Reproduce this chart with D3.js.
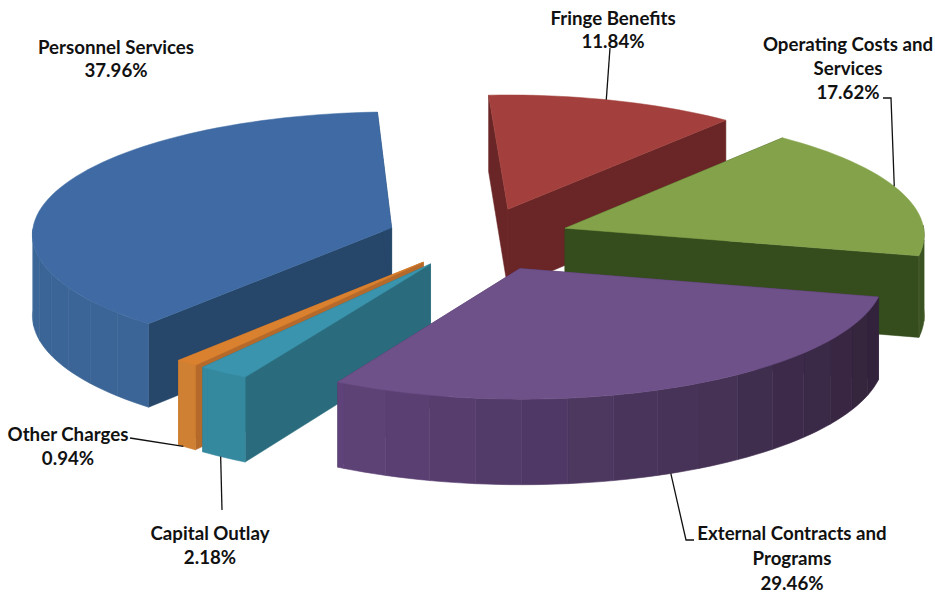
<!DOCTYPE html>
<html><head><meta charset="utf-8">
<script src="https://cdn.jsdelivr.net/npm/d3@7"></script>
<style>html,body{margin:0;padding:0;background:#fff}svg{display:block}
text{font-family:Lato,"Open Sans",sans-serif;font-weight:700;fill:#111}</style>
</head><body><svg id="c" width="935" height="596"></svg>
<script>
const categories = ["Personnel Services","Fringe Benefits","Operating Costs and Services","External Contracts and Programs","Capital Outlay","Other Charges"];
const shares = [37.96,11.84,17.62,29.46,2.18,0.94];
const shareLabels = ["37.96%","11.84%","17.62%","29.46%","2.18%","0.94%"];

// slice explosion (fraction of radius)
const explosions = [0.26,0.25,0.25,0.27,0.25,0.25];
// styling
const topColors  = ["#3f6ba3","#a3403c","#84a24a","#6e5189","#3a94ad","#d9812f"];
const cutColors  = ["#264669","#6b2627","#354d1e","#4a3560","#2b6c7d","#b5692a"];
const wallStart  = ["#3a6596","#6b2627","#354d1e","#2f2238","#35899f","#d08030"];
const wallEnd    = ["#3c6798","#6b2627","#3a5220","#5f4379","#35899f","#d08030"];
const labelLines = [["Personnel Services","37.96%"],["Fringe Benefits","11.84%"],["Operating Costs and","Services","17.62%"],["External Contracts and","Programs","29.46%"],["Capital Outlay","2.18%"],["Other Charges","0.94%"]];
const labelAt = [[116,54,23],[613,25,23],[848,51,24],[792,540,25],[210,540,24],[68,441,24]];
const paintOrder = [1,2,0,5,4,3];
// leader: rim angle in degrees, on lower rim?, elbow path from the label
const leaders = [null,
  {deg:17,low:false,from:[[610,48]]},
  {deg:69.5,low:false,from:[[883,98],[891,98]]},
  {deg:156.8,low:true,from:[[694,540],[686,540]]},
  {deg:213.5,low:true,from:[[222,510]]},
  {deg:219.3,low:true,from:[[130,438]]}];

const R=360, K=0.34, P=0.045, DEPTH=81, CX=480, CY=238, START=-139.7*Math.PI/180;
const svg=d3.select("#c");
svg.append("defs").append("filter").attr("id","soft").append("feGaussianBlur").attr("stdDeviation",0.45);
const scene=svg.append("g").attr("filter","url(#soft)");

const pie=d3.pie().sort(null).startAngle(START).endAngle(START+2*Math.PI);
const arcs=pie(shares);
function project(a,r,z,e){ // a: angle clockwise from north
  const mid=e.mid;
  const X=e.off*Math.sin(mid)+r*Math.sin(a), Y=-e.off*Math.cos(mid)-r*Math.cos(a);
  const s=1+P*Y/R;
  return [CX+X*s, CY+K*Y*s+z*s];
}
const line=d3.line();
const slices=arcs.map((d,i)=>({i,a0:d.startAngle,a1:d.endAngle,e:{mid:(d.startAngle+d.endAngle)/2,off:explosions[i]*R}}));

function rimPts(s,z,a0,a1){
  const n=Math.max(2,Math.ceil((a1-a0)/(Math.PI/90)));
  return d3.range(n+1).map(k=>project(a0+(a1-a0)*k/n,R,z,s.e));
}
paintOrder.forEach(idx=>{
  const s=slices[idx], g=scene.append("g").attr("class","slice");
  const cut=a=>[project(a,0,0,s.e),project(a,R,0,s.e),project(a,R,DEPTH,s.e),project(a,0,DEPTH,s.e)];
  g.selectAll("path.cut").data([s.a0,s.a1]).join("path").attr("class","cut")
    .attr("d",a=>line(cut(a))+"Z").attr("fill",cutColors[idx]).attr("stroke",cutColors[idx]).attr("stroke-width",.5);
  // outer wall in shaded bands, only where it faces the viewer
  const lo=Math.PI/2, hi=Math.PI*1.5;
  const norm=a=>{let t=a;while(t<0)t+=2*Math.PI;while(t>=2*Math.PI)t-=2*Math.PI;return t;};
  const step=(Math.PI/180)*7;
  const bands=[];
  for(let a=s.a0;a<s.a1-1e-6;a+=step){bands.push([a,Math.min(a+step,s.a1)]);}
  const col=d3.scaleLinear().domain([s.a0,s.a1]).range([wallStart[idx],wallEnd[idx]]).interpolate(d3.interpolateRgb);
  g.selectAll("path.wall").data(bands.filter(b=>{const m=norm((b[0]+b[1])/2);return m>lo&&m<hi;})).join("path").attr("class","wall")
    .attr("d",b=>line(rimPts(s,0,b[0],b[1]).concat(rimPts(s,DEPTH,b[0],b[1]).reverse()))+"Z")
    .attr("fill",b=>col((b[0]+b[1])/2)).attr("stroke",b=>col((b[0]+b[1])/2)).attr("stroke-width",.6);
  g.append("path").attr("d",line([project(0,0,0,s.e)].concat(rimPts(s,0,s.a0,s.a1)))+"Z")
    .attr("fill",topColors[idx]).attr("stroke",topColors[idx]).attr("stroke-width",.5);
});

// leaders
const lg=svg.append("g");
leaders.forEach((l,i)=>{ if(!l)return;
  const s=slices[i]; let a=l.deg*Math.PI/180;
  if(a<s.a0)a+=2*Math.PI; if(a>s.a1)a-=2*Math.PI;
  const p=project(a,R,l.low?DEPTH:0,s.e);
  lg.append("path").attr("d",line(l.from.concat([p]))).attr("fill","none").attr("stroke","#111").attr("stroke-width",1.3);
});

// labels
categories.forEach((c,i)=>{
  const [x,y,dy]=labelAt[i];
  svg.append("text").attr("text-anchor","middle").attr("font-size",18.7)
    .selectAll("tspan").data(labelLines[i]).join("tspan").attr("x",x).attr("y",(d,k)=>y+k*dy).text(d=>d);
});
</script></body></html>
